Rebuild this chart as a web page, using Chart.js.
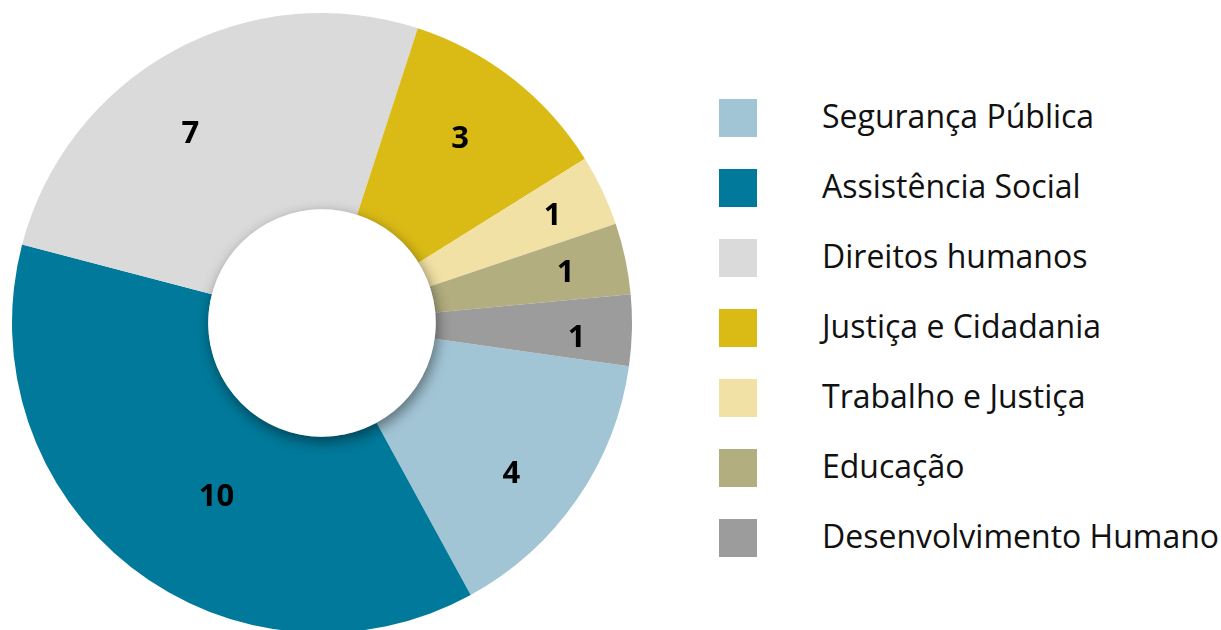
<!DOCTYPE html>
<html>
<head>
<meta charset="utf-8">
<script src="https://cdn.jsdelivr.net/npm/chart.js@4"></script>
<style>
  html, body { margin: 0; padding: 0; background: #fff; width: 1221px; height: 630px; overflow: hidden; }
  #wrap { position: absolute; left: 12px; top: 13px; width: 620px; height: 620px; }
  #legend { position: absolute; left: 719px; top: 99px; font-family: 'Open Sans', sans-serif; }
  .item { position: relative; height: 38px; margin-bottom: 32px; }
  .box { position: absolute; left: 0; top: 0; width: 38px; height: 38px; }
  .txt { position: absolute; left: 103px; top: -5px; line-height: 44px; font-size: 32px; color: #111; white-space: nowrap; }
</style>
</head>
<body>
<div id="wrap"><canvas id="chart"></canvas></div>
<div id="legend"></div>
<script>
const categories = ['Segurança Pública', 'Assistência Social', 'Direitos humanos', 'Justiça e Cidadania', 'Trabalho e Justiça', 'Educação', 'Desenvolvimento Humano'];
const values = [4, 10, 7, 3, 1, 1, 1];
const colors = ['#a2c5d5', '#00799a', '#dadada', '#dabb16', '#f1e1a4', '#b3ae80', '#9c9c9c'];

// legend built from the same arrays
const legendEl = document.getElementById('legend');
categories.forEach((name, i) => {
    const item = document.createElement('div');
    item.className = 'item';
    item.innerHTML = `<div class="box" style="background:${colors[i]}"></div><div class="txt">${name}</div>`;
    legendEl.appendChild(item);
});

// white hole with a soft shadow, then the value labels
const holeAndLabels = {
    id: 'holeAndLabels',
    afterDatasetsDraw(chart, args, opts) {
        const ctx = chart.ctx;
        const arcs = chart.getDatasetMeta(0).data;
        const a0 = arcs[0];
        ctx.save();
        ctx.shadowColor = 'rgba(0,0,0,0.45)';
        ctx.shadowBlur = 14;
        ctx.shadowOffsetX = 2;
        ctx.shadowOffsetY = 5;
        ctx.fillStyle = '#fff';
        ctx.beginPath();
        ctx.arc(a0.x, a0.y, a0.innerRadius, 0, Math.PI * 2);
        ctx.fill();
        ctx.restore();

        ctx.save();
        ctx.font = 'bold 31px "Open Sans"';
        ctx.fillStyle = '#000';
        ctx.textAlign = 'center';
        ctx.textBaseline = 'middle';
        arcs.forEach((arc, i) => {
            // label nudges, like datalabels offset/rotation tweaks
            const mid = (arc.startAngle + arc.endAngle) / 2 + (opts.angleNudge[i] || 0) * Math.PI / 180;
            const r = arc.innerRadius + (arc.outerRadius - arc.innerRadius) * opts.radial[i];
            ctx.fillText(String(values[i]), arc.x + Math.cos(mid) * r, arc.y + Math.sin(mid) * r + 2);
        });
        ctx.restore();
    }
};

new Chart(document.getElementById('chart').getContext('2d'), {
    type: 'doughnut',
    data: {
        labels: categories,
        datasets: [{
            data: values,
            backgroundColor: colors,
            borderWidth: 0,
            hoverOffset: 0,
            offset: 0
        }]
    },
    options: {
        responsive: true,
        maintainAspectRatio: false,
        animation: false,
        cutout: '36.7%',
        rotation: 98,
        layout: { padding: 0 },
        plugins: {
            legend: { display: false },
            tooltip: { enabled: false },
            holeAndLabels: {
                radial: [0.65, 0.45, 0.6, 0.6, 0.72, 0.69, 0.72],
                angleNudge: [3.6, -6.5, -6, -1.4, 0, 0, 1.7]
            }
        }
    },
    plugins: [holeAndLabels]
});
</script>
</body>
</html>
